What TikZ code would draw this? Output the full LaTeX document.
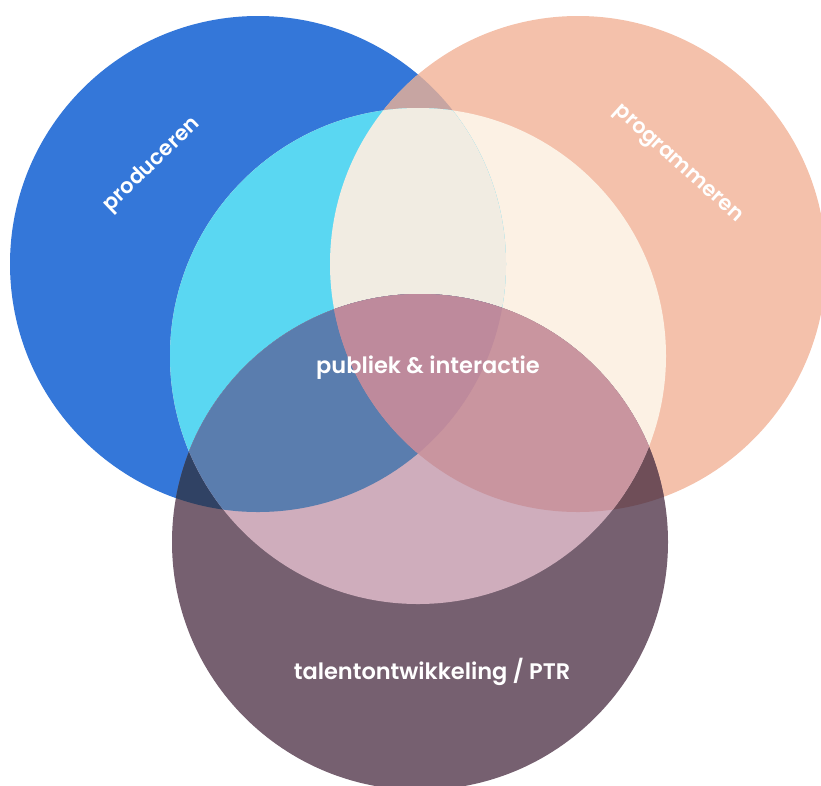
\documentclass[tikz,border=0pt]{standalone}
\usepackage{fontspec}
\newfontfamily\vennfont{Poppins SemiBold}
\usepackage{tikz}
\usetikzlibrary{positioning}

\definecolor{prodblue}{HTML}{3477D9}
\definecolor{progpeach}{HTML}{F4C1AB}
\definecolor{prodprog}{HTML}{C7A5A2}
\definecolor{midblue}{HTML}{5AD7F2}
\definecolor{midpeach}{HTML}{FCF1E4}
\definecolor{midboth}{HTML}{F1ECE2}
\definecolor{talent}{HTML}{766070}
\definecolor{talblue}{HTML}{304264}
\definecolor{talpeach}{HTML}{6F4E58}
\definecolor{talmid}{HTML}{CFADBC}
\definecolor{talmidblue}{HTML}{5A7DAE}
\definecolor{talmidpeach}{HTML}{C9959F}
\definecolor{talall}{HTML}{BE8A9C}

\newcommand{\prodcirc}{(258,264) circle[radius=248pt]}
\newcommand{\progcirc}{(578,264) circle[radius=248pt]}
\newcommand{\midcirc}{(418,356) circle[radius=248pt]}
\newcommand{\talcirc}{(420,542) circle[radius=248pt]}

\tikzset{venn text/.style={text=white,inner sep=0pt,font=\vennfont\fontsize{22.5}{25}\selectfont},
         tilted text/.style={venn text,font=\vennfont\fontsize{21}{24}\selectfont}}

\begin{document}
\begin{tikzpicture}[x=1pt,y=-1pt]
    \useasboundingbox (0,0) rectangle (821,785);

    % produceren & programmeren
    \fill[prodblue] \prodcirc;
    \fill[progpeach] \progcirc;
    \begin{scope}
        \clip \prodcirc;
        \fill[prodprog] \progcirc;
    \end{scope}

    % publiek & interactie
    \fill[midpeach] \midcirc;
    \begin{scope}
        \clip \midcirc;
        \fill[midblue] \prodcirc;
        \clip \prodcirc;
        \fill[midboth] \progcirc;
    \end{scope}

    % talentontwikkeling
    \fill[talent] \talcirc;
    \begin{scope}
        \clip \talcirc;
        \fill[talblue] \prodcirc;
        \fill[talpeach] \progcirc;
        \fill[talmid] \midcirc;
        \clip \midcirc;
        \fill[talmidblue] \prodcirc;
        \fill[talmidpeach] \progcirc;
        \clip \prodcirc;
        \fill[talall] \progcirc;
    \end{scope}

    \node[tilted text, rotate=44] (prod) at (152,165) {produceren};
    \node[tilted text, rotate=-42] (prog) at (677,165) {programmeren};
    \node[venn text] (publ) at (428,368) {publiek \& interactie};
    \node[venn text] (tal) at (432,672) {talentontwikkeling / PTR};
\end{tikzpicture}
\end{document}
